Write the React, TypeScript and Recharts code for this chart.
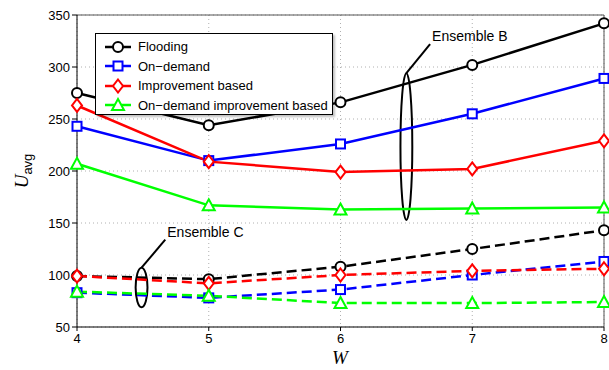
import React from 'react';
import { LineChart, Line, XAxis, YAxis, CartesianGrid, ReferenceArea, ReferenceLine, ReferenceDot } from 'recharts';

const W_VALUES = [4, 5, 6, 7, 8];
const Y_TICKS = [50, 100, 150, 200, 250, 300, 350];

// ensemble B (solid lines)
const floodingB = [275, 244, 266, 302, 342];
const onDemandB = [243, 210, 226, 255, 289];
const improvementB = [263, 209, 199, 202, 229];
const onDemandImprB = [207, 167, 163, 164, 165];

// ensemble C (dashed lines)
const floodingC = [99, 96, 108, 125, 143];
const onDemandC = [83, 78, 86, 100, 113];
const improvementC = [99, 92, 100, 104, 106];
const onDemandImprC = [84, 80, 73, 73, 74];

const SERIES = [
    { name: 'Flooding', color: '#000000', marker: 'circle', b: floodingB, c: floodingC },
    { name: 'On\u2212demand', color: '#0000ff', marker: 'square', b: onDemandB, c: onDemandC },
    { name: 'Improvement based', color: '#ff0000', marker: 'diamond', b: improvementB, c: improvementC },
    { name: 'On\u2212demand improvement based', color: '#00ff00', marker: 'triangle', b: onDemandImprB, c: onDemandImprC },
];

const data = W_VALUES.map((w, i) => {
    const row: Record<string, number> = { w };
    SERIES.forEach((s, k) => {
        row[`b${k}`] = s.b[i];
        row[`c${k}`] = s.c[i];
    });
    return row;
});

const FONT = 'Liberation Sans, Arial, sans-serif';

const Marker = ({ cx, cy, kind, color }: { cx: number; cy: number; kind: string; color: string }) => {
    if (cx == null || cy == null) return null;
    const sw = 2;
    if (kind === 'circle') return <circle cx={cx} cy={cy} r={5} fill="#fff" stroke={color} strokeWidth={sw} />;
    if (kind === 'square') return <rect x={cx - 4.5} y={cy - 4.5} width={9} height={9} fill="#fff" stroke={color} strokeWidth={sw} />;
    if (kind === 'diamond')
        return <polygon points={`${cx},${cy - 6.5} ${cx + 5},${cy} ${cx},${cy + 6.5} ${cx - 5},${cy}`} fill="#fff" stroke={color} strokeWidth={sw} />;
    return <polygon points={`${cx},${cy - 6} ${cx + 6},${cy + 5} ${cx - 6},${cy + 5}`} fill="#fff" stroke={color} strokeWidth={sw} />;
};

const LegendBox = () => (
    <div
        style={{
            position: 'absolute', left: 95, top: 33, width: 238, height: 82,
            border: '1px solid #000', background: '#fff', boxShadow: '2px 2px 2px rgba(0,0,0,0.25)',
            fontFamily: FONT, fontSize: 13, padding: '3px 0 0 8px', boxSizing: 'border-box',
        }}
    >
        {SERIES.map(s => (
            <div key={s.name} style={{ display: 'flex', alignItems: 'center', height: 19.5 }}>
                <svg width={30} height={16} style={{ marginRight: 4 }}>
                    <line x1={1} y1={8} x2={27} y2={8} stroke={s.color} strokeWidth={2.5} />
                    <Marker cx={14} cy={8} kind={s.marker} color={s.color} />
                </svg>
                <span>{s.name}</span>
            </div>
        ))}
    </div>
);

const Ellipse = (props: any) => {
    const { x, y, width, height } = props;
    return <ellipse cx={x + width / 2} cy={y + height / 2} rx={width / 2} ry={height / 2} fill="none" stroke="#000" strokeWidth={2} />;
};

const LabelText = (text: string) => (props: any) => (
    <text x={props.cx + 2} y={props.cy - 3} fontFamily={FONT} fontSize={14} fill="#000">{text}</text>
);

const XTick = (props: any) => (
    <text x={props.x} y={props.y + 10} textAnchor="middle" fontFamily={FONT} fontSize={13} fill="#000">
        {props.payload.value}
    </text>
);

export default function App() {
    return (
        <div style={{ position: 'absolute', left: 0, top: 0, width: 609, height: 370, background: '#fff', overflow: 'hidden' }}>
            <LineChart width={609} height={370} data={data} margin={{ top: 15, right: 5, left: 0, bottom: 0 }} style={{ overflow: 'visible' }}>
                <CartesianGrid stroke="#b0b0b0" strokeDasharray="1 3" />
                <XAxis
                    dataKey="w" type="number" domain={[4, 8]} ticks={W_VALUES} height={43} interval={0}
                    stroke="#000" tickSize={4} tick={XTick}
                    label={() => (
                        <text x={340} y={364} textAnchor="middle" fontFamily="Liberation Serif, serif" fontStyle="italic" fontSize={19} fill="#000">W</text>
                    )}
                />
                <YAxis
                    domain={[50, 350]} ticks={Y_TICKS} width={77} stroke="#000" tickSize={5}
                    tick={{ fontFamily: FONT, fontSize: 13, fill: '#000' }}
                    label={() => (
                        <text transform="translate(28,171) rotate(-90)" textAnchor="middle" fill="#000">
                            <tspan fontFamily="Liberation Serif, serif" fontStyle="italic" fontSize={19}>U</tspan>
                            <tspan fontFamily={FONT} fontSize={13} dy={4}>avg</tspan>
                        </text>
                    )}
                />
                <ReferenceLine y={350} stroke="#555" strokeWidth={1} />
                <ReferenceLine x={8} stroke="#555" strokeWidth={1} />
                {SERIES.map((s, k) => (
                    <Line
                        key={`b${k}`} dataKey={`b${k}`} stroke={s.color} strokeWidth={2.5} isAnimationActive={false}
                        dot={(p: any) => <Marker key={`bd${k}-${p.index}`} cx={p.cx} cy={p.cy} kind={s.marker} color={s.color} />}
                        activeDot={false}
                    />
                ))}
                {SERIES.map((s, k) => (
                    <Line
                        key={`c${k}`} dataKey={`c${k}`} stroke={s.color} strokeWidth={2.5} strokeDasharray="10 5" isAnimationActive={false}
                        dot={(p: any) => <Marker key={`cd${k}-${p.index}`} cx={p.cx} cy={p.cy} kind={s.marker} color={s.color} />}
                        activeDot={false}
                    />
                ))}
                <ReferenceArea x1={6.455} x2={6.545} y1={153} y2={294} shape={Ellipse} ifOverflow="visible" />
                <ReferenceLine segment={[{ x: 6.5, y: 294 }, { x: 6.68, y: 322 }]} stroke="#000" strokeWidth={2} ifOverflow="visible" />
                <ReferenceDot x={6.68} y={322} shape={LabelText('Ensemble B')} ifOverflow="visible" />
                <ReferenceArea x1={4.445} x2={4.535} y1={69} y2={107} shape={Ellipse} ifOverflow="visible" />
                <ReferenceLine segment={[{ x: 4.49, y: 107 }, { x: 4.67, y: 134 }]} stroke="#000" strokeWidth={2} ifOverflow="visible" />
                <ReferenceDot x={4.67} y={134} shape={LabelText('Ensemble C')} ifOverflow="visible" />
            </LineChart>
            <LegendBox />
        </div>
    );
}
